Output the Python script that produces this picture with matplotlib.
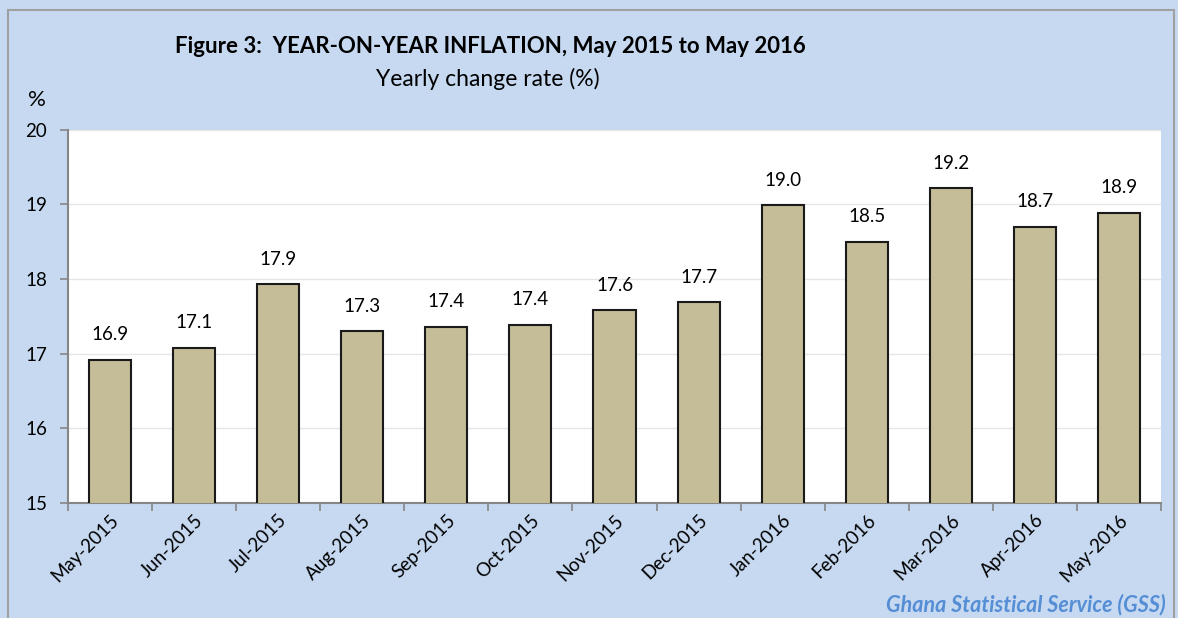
import numpy as np
import matplotlib.pyplot as plt
from matplotlib.patches import Rectangle

# дані
months = ['May-2015', 'Jun-2015', 'Jul-2015', 'Aug-2015', 'Sep-2015', 'Oct-2015', 'Nov-2015',
          'Dec-2015', 'Jan-2016', 'Feb-2016', 'Mar-2016', 'Apr-2016', 'May-2016']
inflation = [16.92, 17.08, 17.93, 17.30, 17.36, 17.39, 17.58, 17.69, 18.99, 18.50, 19.22, 18.70, 18.89]
y_ticks = [15, 16, 17, 18, 19, 20]

plt.rcParams['font.family'] = ['Lato', 'DejaVu Sans']

bg = '#C6D9F1'
fig = plt.figure(figsize=(11.78, 6.18), dpi=100, facecolor=bg)
ax = fig.add_axes([0.0577, 0.186, 0.9279, 0.604])
ax.set_facecolor('white')

x = np.arange(len(months))
ax.bar(x, inflation, width=0.5, bottom=0, color='#C4BD97', edgecolor='#1a1a1a', linewidth=1.5, zorder=3)
for xi, v in zip(x, inflation):
    ax.text(xi, v + 0.22, f'{v:.1f}', ha='center', va='bottom', fontsize=13.5, zorder=4)

ax.set_xlim(-0.5, len(months) - 0.5)
ax.set_ylim(15, 20)
ax.set_yticks(y_ticks)
ax.set_yticklabels([str(t) for t in y_ticks], fontsize=13.5)
ax.yaxis.grid(True, color='#e6e6e6', linewidth=1, zorder=0)

# підписи місяців між поділками
ax.set_xticks(np.arange(-0.5, len(months), 1))
ax.set_xticklabels([])
ax.set_xticks(x, minor=True)
ax.set_xticklabels(months, minor=True, rotation=45, ha='right', rotation_mode='anchor', fontsize=13.5)
ax.tick_params(axis='x', which='minor', length=0, pad=6)
ax.tick_params(axis='x', which='major', length=6, color='#868686', width=1.2)
ax.tick_params(axis='y', length=6, color='#868686', width=1.2, pad=9)

for side in ['top', 'right']:
    ax.spines[side].set_visible(False)
for side in ['left', 'bottom']:
    ax.spines[side].set_color('#868686')
    ax.spines[side].set_linewidth(1.5)

fig.text(0.416, 0.924, 'Figure 3:  YEAR-ON-YEAR INFLATION, May 2015 to May 2016',
         ha='center', va='center', fontsize=16, fontweight='bold')
fig.text(0.414, 0.872, 'Yearly change rate (%)', ha='center', va='center', fontsize=16.5)
fig.text(0.031, 0.838, '%', ha='center', va='center', fontsize=16)
fig.text(0.99, 0.021, 'Ghana Statistical Service (GSS)', ha='right', va='center',
         fontsize=15.5, fontweight='bold', fontstyle='italic', color='#558ED5')

# рамка
fig.patches.append(Rectangle((0.0068, -0.05), 0.99, 1.034, transform=fig.transFigure,
                             fill=False, edgecolor='#a0a0a0', linewidth=1.5))

fig.savefig('out.png', dpi=100, facecolor=bg)
